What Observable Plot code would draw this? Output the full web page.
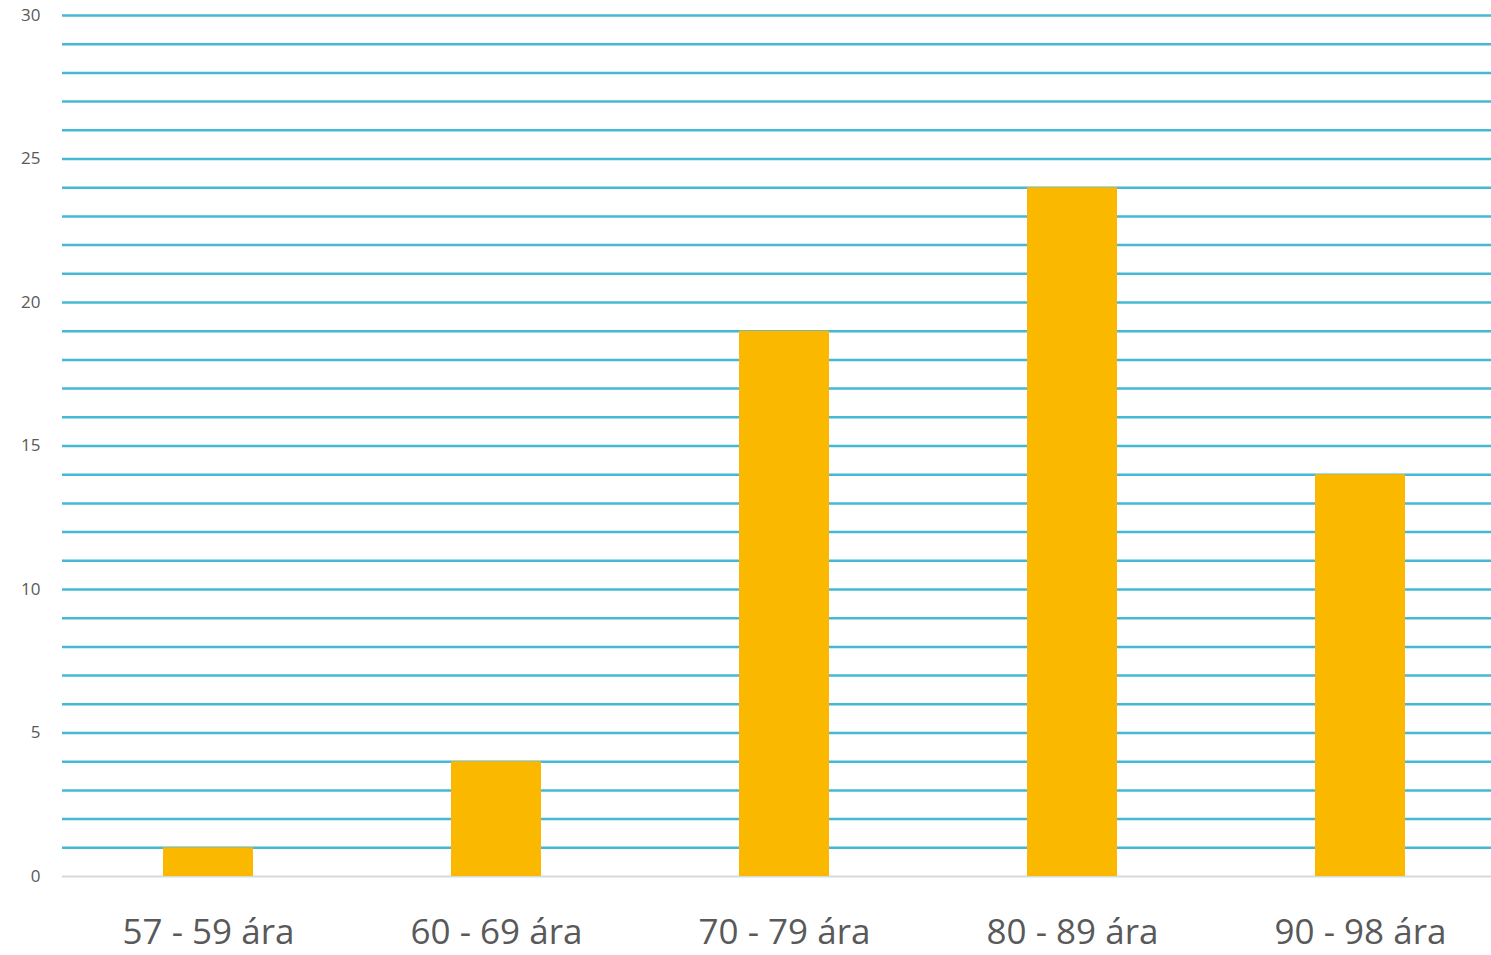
<!DOCTYPE html>
<html>
<head>
<meta charset="utf-8">
<script src="https://cdn.jsdelivr.net/npm/d3@7"></script>
<script src="https://cdn.jsdelivr.net/npm/@observablehq/plot@0.6"></script>
<style>
  html, body { margin: 0; padding: 0; background: #fff; overflow: hidden; }
  #chart { width: 1491px; overflow: hidden; }
  #chart svg { display: block; max-width: none !important; width: 1506px !important; height: 955px !important; }
</style>
</head>
<body>
<div id="chart"></div>
<script>
const categories = ["57 - 59 ára", "60 - 69 ára", "70 - 79 ára", "80 - 89 ára", "90 - 98 ára"];
const counts = [1, 4, 19, 24, 14];
const yTicks = [0, 5, 10, 15, 20, 25, 30];
const gridValues = d3.range(1, 31);

const data = categories.map((c, i) => ({category: c, count: counts[i]}));

const chart = Plot.plot({
  width: 1506,
  height: 955,
  marginLeft: 62,
  marginRight: 0,
  marginTop: 15,
  marginBottom: 79,
  style: {fontFamily: "'Open Sans', sans-serif", color: "#595959", background: "#fff"},
  x: {domain: categories, paddingInner: 0.688, paddingOuter: 0.344, label: null},
  y: {domain: [0, 30], label: null},
  marks: [
    Plot.ruleY(gridValues, {stroke: "#45b8d4", strokeWidth: 2.5}),
    Plot.ruleY([0], {stroke: "#d9d9d9", strokeWidth: 2}),
    Plot.barY(data, {x: "category", y: "count", fill: "#fab800"}),
    Plot.axisY(yTicks, {tickSize: 0, tickPadding: 22, fontSize: 17, fill: "#595959", label: null}),
    Plot.axisX({tickSize: 0, tickPadding: 43, fontSize: 35, fill: "#595959", label: null})
  ]
});
document.getElementById("chart").appendChild(chart);
</script>
</body>
</html>
